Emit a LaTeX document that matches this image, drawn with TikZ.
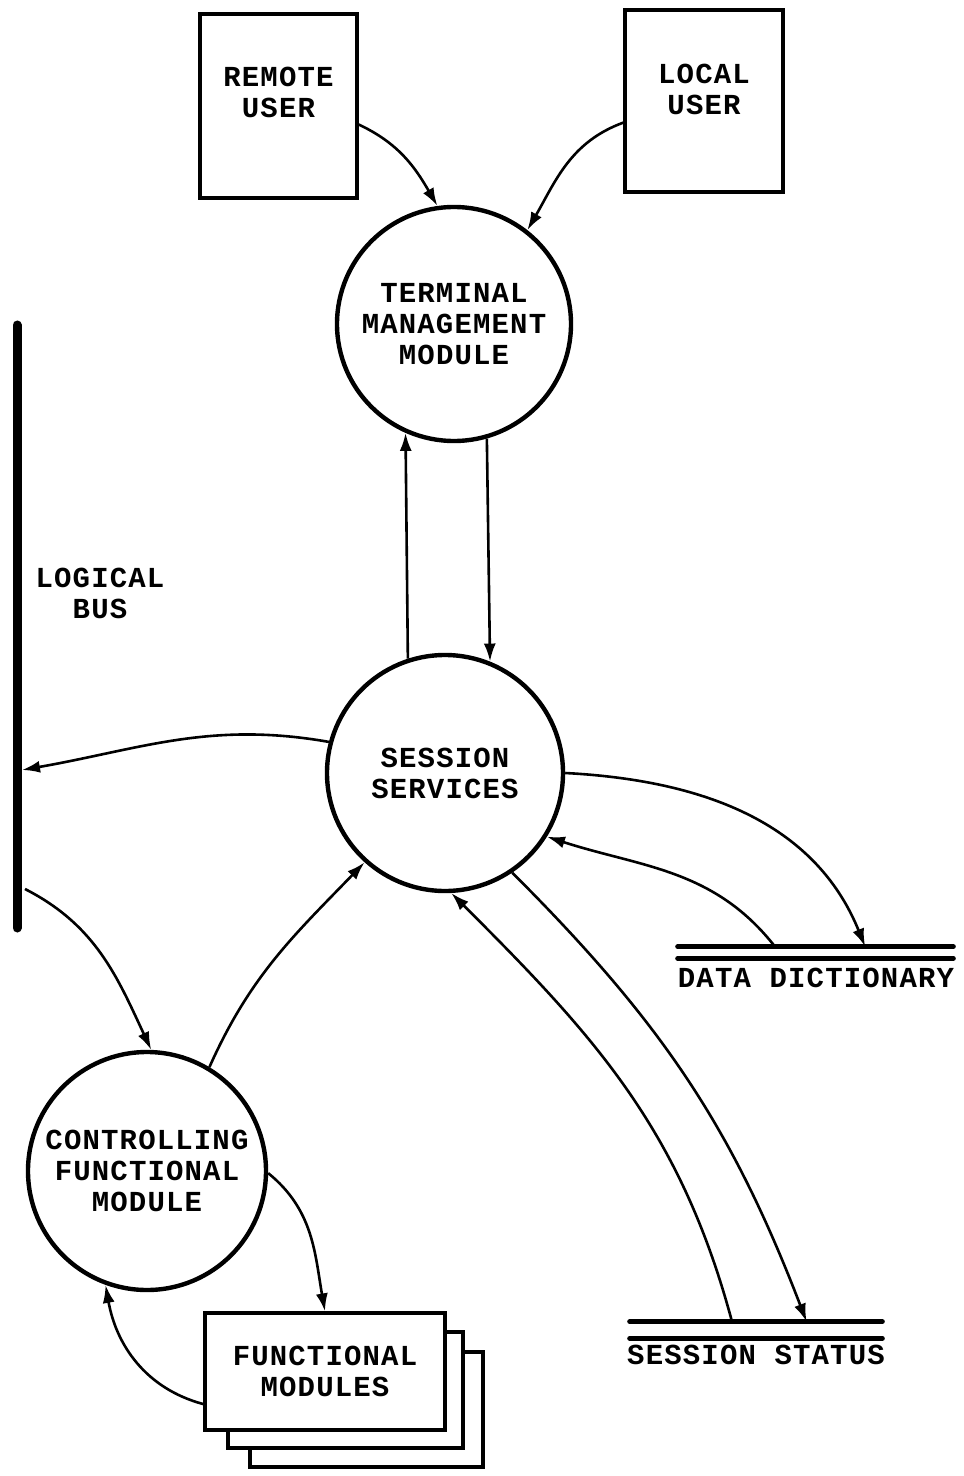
\documentclass[tikz,border=0pt]{standalone}
\usepackage{fontspec}
\newfontfamily\typew{Liberation Mono}[LetterSpace=4]
\usetikzlibrary{arrows.meta,calc}
\newcommand\lbl{\typew\bfseries\fontsize{14.5}{15.5}\selectfont}

\begin{document}
\begin{tikzpicture}[x=0.5pt,y=0.5pt,
  flow/.style={line width=1.3pt, -{Latex[length=9pt,width=6pt]}},
  proc/.style={circle, draw, line width=2.2pt, inner sep=0pt, font=\lbl, align=center},
  ext/.style={rectangle, draw, line width=1.6pt, inner sep=0pt, fill=white, font=\lbl, align=center},
  txt/.style={font=\lbl, align=center, inner sep=0pt},
  store/.style={rectangle, inner sep=0pt},
  storeline/.style={line width=2.4pt, line cap=round},
  busline/.style={line width=4.5pt, line cap=round}]

\useasboundingbox (0,0) rectangle (963,-1476);
\fill[white] (0,0) rectangle (963,-1476);

% external entities
\node[ext, minimum width=78.5pt, minimum height=92pt] (remote) at (278.5,-106) {};
\node[txt] at ([yshift=7pt]remote.center) {REMOTE\\USER};
\node[ext, minimum width=79pt, minimum height=91pt] (local) at (704,-101) {};
\node[txt] at ([yshift=6pt]local.center) {LOCAL\\USER};

% processes
\node[proc, minimum size=117pt] (tmm) at (454,-324) {TERMINAL\\MANAGEMENT\\MODULE};
\node[proc, minimum size=118pt] (ss) at (445,-773) {SESSION\\SERVICES};
\node[proc, minimum size=119pt] (cfm) at (147,-1171) {CONTROLLING\\FUNCTIONAL\\MODULE};

% stacked functional modules, back to front
\node[ext, minimum width=116.5pt, minimum height=57.5pt] (fm3) at (366.5,-1409.5) {};
\node[ext, minimum width=117.5pt, minimum height=58pt] (fm2) at (345.5,-1390) {};
\node[ext, minimum width=120pt, minimum height=58.5pt] (fm) at (325,-1371.5) {FUNCTIONAL\\MODULES};

% logical bus
\coordinate (bustop) at (17,-325);
\coordinate (busbot) at (17,-928);
\draw[busline] (bustop) -- (busbot);
\coordinate (busin) at (22,-770);
\coordinate (busout) at (25,-889);
\node[txt] (buslabel) at (100,-593) {LOGICAL\\BUS};

% data stores
\node[store, minimum width=137.5pt, minimum height=5.5pt] (dd) at (815.5,-952.5) {};
\draw[storeline] (dd.north west) -- (dd.north east);
\draw[storeline] (dd.south west) -- (dd.south east);
\node[txt] (ddlabel) at (816,-978) {DATA DICTIONARY};

\node[store, minimum width=126pt, minimum height=8pt] (st) at (756,-1330) {};
\draw[storeline] (st.north west) -- (st.north east);
\draw[storeline] (st.south west) -- (st.south east);
\node[txt] (stlabel) at (756,-1355) {SESSION STATUS};

% flows
\draw[flow] (remote.-13.6) to[out=-25,in=120] (tmm.98);
\draw[flow] (local.195.6) to[out=200,in=60] (tmm.52);
\draw[flow] (ss.108.8) -- (tmm.246.3);
\draw[flow] (tmm.286.9) -- (ss.68.6);
\draw[flow] (ss.165) to[out=170,in=10] (busin);
\draw[flow] (busout) to[out=-27,in=115] (cfm.88.6);
\draw[flow] (cfm.59.3) to[out=66,in=226] (ss.228);
\draw[flow] (cfm.-1) to[out=-39,in=100] (fm.north);
\draw[flow] (fm.195.6) to[out=165,in=280] (cfm.250.3);
\draw[flow] (ss.0) to[out=-3,in=112] ($(dd.north west)!0.68!(dd.north east)$);
\draw[flow] ($(dd.north west)!0.353!(dd.north east)$) to[out=128,in=342] (ss.328.2);
\draw[flow] (ss.304.6) to[out=-45,in=111] ($(st.north west)!0.70!(st.north east)$);
\draw[flow] ($(st.north west)!0.405!(st.north east)$) to[out=105,in=315] (ss.273.8);
\end{tikzpicture}
\end{document}
